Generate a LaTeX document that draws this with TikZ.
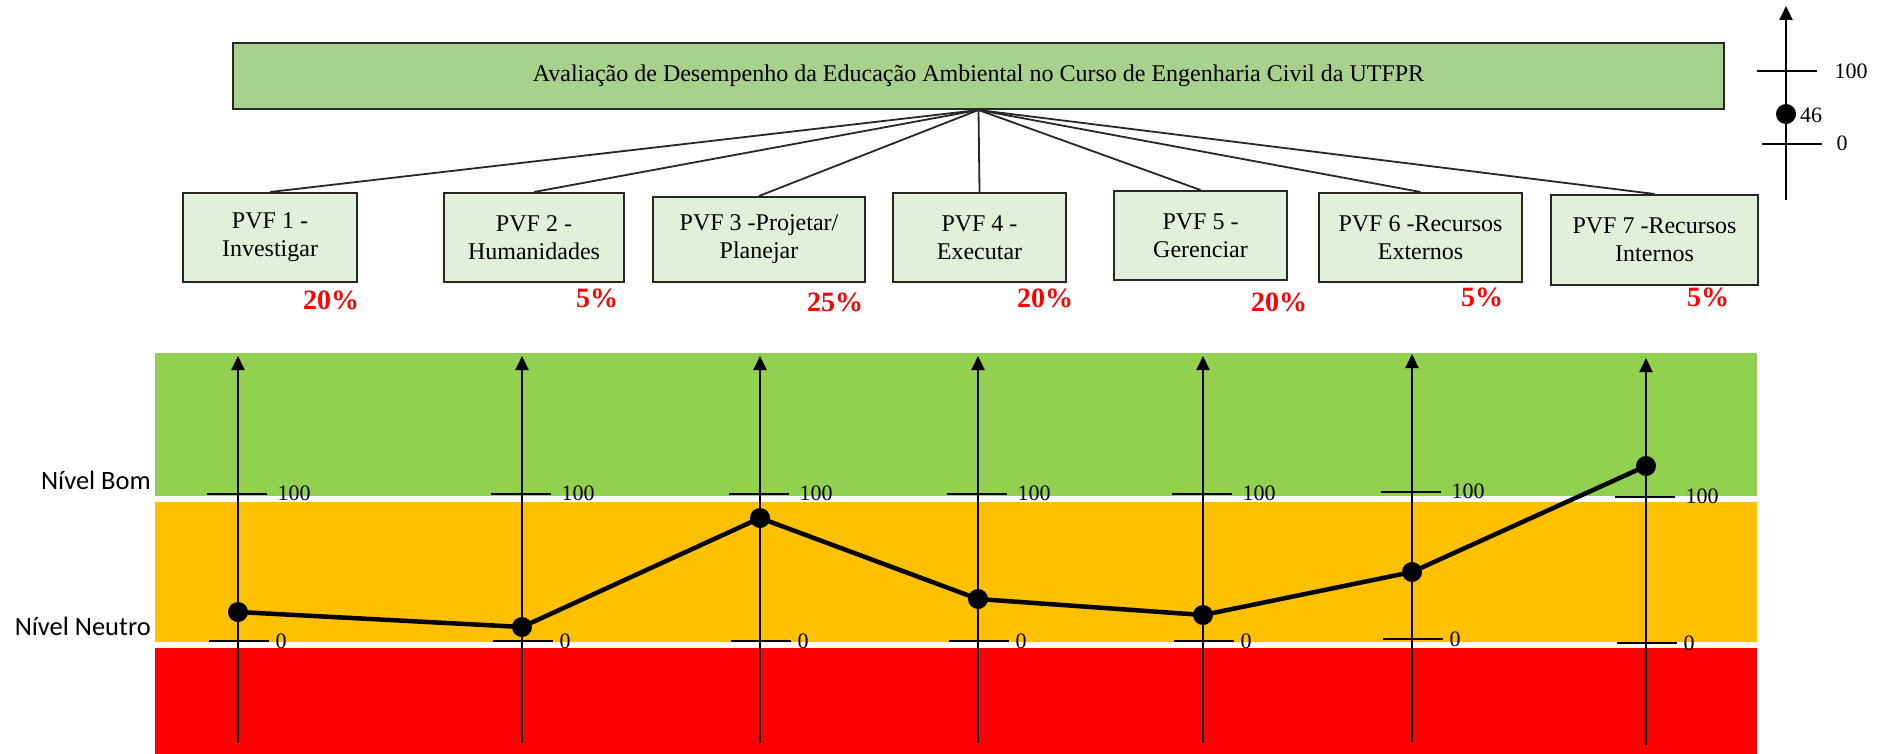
\documentclass[tikz,border=0pt]{standalone}
\usepackage{fontspec}
\setmainfont{Liberation Serif}
\newfontfamily\levelfont{Carlito}
\usetikzlibrary{arrows.meta}

\definecolor{titlegreen}{HTML}{A9D18E}
\definecolor{boxgreen}{HTML}{E2F0D9}
\definecolor{bandgood}{HTML}{92D050}
\definecolor{bandneutral}{HTML}{FFC000}
\definecolor{bandbad}{HTML}{FF0000}

\begin{document}
\begin{tikzpicture}[x=1pt,y=-1pt,
  titlebox/.style={draw=black!85, line width=2pt, fill=titlegreen,
    minimum width=1491pt, minimum height=66pt, inner sep=0pt,
    font=\fontsize{24}{29}\selectfont},
  pvfbox/.style={draw=black!85, line width=2pt, fill=boxgreen, inner sep=0pt,
    align=center, font=\fontsize{24}{28}\selectfont},
  weight/.style={text=red, inner sep=0pt, font=\bfseries\fontsize{28}{30}\selectfont},
  link/.style={draw=black!85, line width=1.8pt},
  axisline/.style={line width=2pt, -{Triangle[length=14pt,width=13pt]}},
  tickline/.style={line width=2pt},
  ticklabel/.style={inner sep=0pt, font=\fontsize{22}{24}\selectfont},
  levellabel/.style={inner sep=0pt, anchor=base east, font=\levelfont\fontsize{26.5}{30}\selectfont},
  dot/.style={circle, fill=black, minimum size=20pt, inner sep=0pt},
  profile/.style={line width=4.5pt, line join=round},
]
\useasboundingbox (0,0) rectangle (1894,754);

% ---------- hierarchy of viewpoints ----------
\node[titlebox] (title) at (978.5,76)
  {Avaliação de Desempenho da Educação Ambiental no Curso de Engenharia Civil da UTFPR};

\node[pvfbox, minimum width=174pt, minimum height=89pt] (p1) at (270,237.5) {PVF 1 -\\Investigar};
\node[pvfbox, minimum width=180pt, minimum height=89pt] (p2) at (534,237.5) {PVF 2 -\\Humanidades};
\node[pvfbox, minimum width=212pt, minimum height=85pt] (p3) at (759,239.5) {PVF 3 -Projetar/\\Planejar};
\node[pvfbox, minimum width=173pt, minimum height=89pt] (p4) at (979.5,237.5) {PVF 4 -\\Executar};
\node[pvfbox, minimum width=173pt, minimum height=89pt] (p5) at (1200.5,235.5) {PVF 5 -\\Gerenciar};
\node[pvfbox, minimum width=203pt, minimum height=89pt] (p6) at (1420.5,237.5) {PVF 6 -Recursos\\Externos};
\node[pvfbox, minimum width=207pt, minimum height=90pt] (p7) at (1654.5,240) {PVF 7 -Recursos\\Internos};

\foreach \i in {1,...,7} {
  \draw[link] (title.south) -- (p\i.north);
}

% weights of the viewpoints
\node[weight] (w1) at (331,300) {20\%};
\node[weight] (w2) at (597,298) {5\%};
\node[weight] (w3) at (835,302) {25\%};
\node[weight] (w4) at (1045,298) {20\%};
\node[weight] (w5) at (1279,302) {20\%};
\node[weight] (w6) at (1482,297) {5\%};
\node[weight] (w7) at (1708,297) {5\%};

% ---------- global scale ----------
\coordinate (gb) at (1786,200);
\coordinate (gt) at (1786,6);
\draw[axisline] (gb) -- (gt);
\draw[tickline] (1757,71) -- (1817,71);
\draw[tickline] (1762,144) -- (1822,144);
\node[ticklabel] (g100) at (1851,71) {100};
\node[ticklabel] (g0) at (1842,143) {0};
\node[dot] (gdot) at (1786,114) {};
\node[ticklabel] (g46) at (1811,115) {46};

% ---------- performance bands ----------
\fill[bandgood] (155,353) rectangle (1757,496);
\fill[bandneutral] (155,502) rectangle (1757,642);
\fill[bandbad] (155,648) rectangle (1757,754);

\node[levellabel] (bom) at (151,489) {Nível Bom};
\node[levellabel] (neutro) at (151,635) {Nível Neutro};

% ---------- one scale per viewpoint ----------
% index / x / top / bottom / level 100 / level 0 / score
\foreach \i/\x/\t/\b/\h/\z/\v in {
  1/238/356/743/494/641/612,
  2/522/356/743/494/641/627,
  3/760/356/743/494/641/518,
  4/978/356/743/494/641/599,
  5/1203/356/743/494/641/615,
  6/1412/354/742/492/639/572,
  7/1646/358/745/497/643/466} {
  \coordinate (a\i b) at (\x,\b);
  \coordinate (a\i t) at (\x,\t);
  \draw[tickline] (\x-31,\h) -- (\x+29,\h);
  \draw[tickline] (\x-29,\z) -- (\x+31,\z);
  \draw[axisline] (a\i b) -- (a\i t);
  \node[ticklabel] (h\i) at (\x+56,\h-1) {100};
  \node[ticklabel] (z\i) at (\x+43,\z) {0};
  \node[dot] (d\i) at (\x,\v) {};
}

\draw[profile] (d1.center) -- (d2.center) -- (d3.center) -- (d4.center)
  -- (d5.center) -- (d6.center) -- (d7.center);

\end{tikzpicture}
\end{document}
